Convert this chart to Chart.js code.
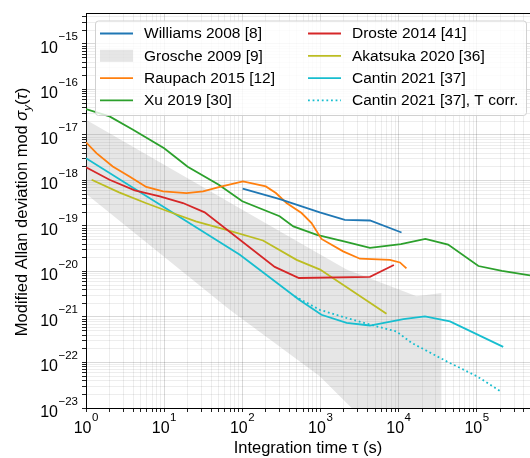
<!DOCTYPE html>
<html><head><meta charset="utf-8">
<script src="https://cdn.jsdelivr.net/npm/chart.js@4.4.1/dist/chart.umd.min.js"></script>
<style>html,body{margin:0;padding:0;background:#fff;overflow:hidden}</style>
</head><body>
<canvas id="c" width="530" height="458"></canvas>
<script>
// ---- data ----
const williamsTau   = [101, 302, 980, 2050, 4300, 10900];
const williamsSigma = [6.6e-19, 3.9e-19, 2.0e-19, 1.37e-19, 1.32e-19, 7.2e-20];

const groscheTau   = [1, 69, 980, 2160, 17000, 35500];
const groscheUpper = [2.17e-17, 3.3e-19, 2.4e-20, 1.1e-20, 2.84e-21, 3.36e-21];
const groscheLower = [5.1e-19, 1.45e-21, 5.0e-23, 1.29e-23, 3.9e-25, 1.1e-25];

const raupachTau   = [1, 1.36, 2.2, 3.6, 5.9, 9.7, 19.3, 31.5, 51.5, 102, 200, 269, 368, 573, 769, 1030, 1950, 3200, 7740, 10400, 12600];
const raupachSigma = [6.9e-18, 4.0e-18, 2.04e-18, 1.23e-18, 7.2e-19, 5.75e-19, 5.3e-19, 5.75e-19, 7.2e-19, 9.55e-19, 7.4e-19, 5.3e-19, 3.2e-19, 1.93e-19, 1.16e-19, 5.2e-20, 2.77e-20, 1.91e-20, 1.8e-20, 1.58e-20, 1.17e-20];

const xuTau   = [1, 2, 4, 10, 20, 50, 100, 300, 450, 900, 2000, 4300, 10700, 22000, 43000, 105000, 210000, 480000];
const xuSigma = [3.7e-17, 2.56e-17, 1.31e-17, 5.1e-18, 2.0e-18, 8.1e-19, 3.5e-19, 1.64e-19, 9.8e-20, 6.4e-20, 4.6e-20, 3.3e-20, 4.0e-20, 5.2e-20, 3.9e-20, 1.32e-20, 1.03e-20, 8.2e-21];

const drosteTau   = [1, 2, 4.2, 8.8, 17.4, 33, 260, 530, 4300, 8700];
const drosteSigma = [1.96e-18, 1.04e-18, 6.05e-19, 4.5e-19, 3.2e-19, 2.0e-19, 1.26e-20, 7.2e-21, 7.6e-21, 1.39e-20];

const akatsukaTau   = [1.18, 2.65, 5.8, 12.8, 25.4, 61, 184, 495, 990, 7000];
const akatsukaSigma = [1.04e-18, 5.5e-19, 3.2e-19, 1.93e-19, 1.26e-19, 8.3e-20, 4.8e-20, 1.8e-20, 1.1e-20, 1.18e-21];

const cantinTau   = [1, 93, 534, 1030, 2160, 4300, 11500, 21700, 45400, 218000];
const cantinSigma = [3.1e-18, 2.34e-20, 2.4e-21, 1.12e-21, 7.4e-22, 6.5e-22, 9.0e-22, 1.03e-21, 8.0e-22, 2.2e-22];

const cantinTcorrTau   = [470, 980, 2160, 4300, 9400, 14700, 41200, 100000, 208000];
const cantinTcorrSigma = [2.84e-21, 1.44e-21, 9.5e-22, 6.8e-22, 4.8e-22, 2.7e-22, 1.06e-22, 5.0e-23, 2.25e-23];

const seriesLabels = ['Williams 2008 [8]', 'Grosche 2009 [9]', 'Raupach 2015 [12]', 'Xu 2019 [30]',
                      'Droste 2014 [41]', 'Akatsuka 2020 [36]', 'Cantin 2021 [37]', 'Cantin 2021 [37], T corr.'];

const xTickExponents = [0, 1, 2, 3, 4, 5];
const yTickExponents = [-23, -22, -21, -20, -19, -18, -17, -16, -15];
const tickBase = '10';
const xTitle = 'Integration time \u03c4 (s)';
const yTitleParts = ['Modified Allan deviation mod ', '\u03c3', 'y', '(', '\u03c4', ')'];

// ---- helpers ----
const pts = (xs, ys) => xs.map((x, i) => ({x, y: ys[i]}));
const isDecade = v => { const l = Math.log10(v); return Math.abs(l - Math.round(l)) < 1e-6; };
const expText = e => String(e).replace('-', '\u2212');
function logTicks(scale) {
  const t = [];
  const lo = Math.floor(Math.log10(scale.min)), hi = Math.ceil(Math.log10(scale.max));
  for (let e = lo; e <= hi; e++) for (let m = 1; m <= 9; m++) {
    const v = Number(m + 'e' + e);
    if (v >= scale.min * (1 - 1e-9) && v <= scale.max * (1 + 1e-9)) t.push({value: v});
  }
  scale.ticks = t;
}
const gridColor = c => (c.tick && isDecade(c.tick.value)) ? 'rgba(0,0,0,0.15)' : 'rgba(0,0,0,0.07)';

const FONT = '"Liberation Sans", Arial, "DejaVu Sans", sans-serif';
const C = {blue:'#1f77b4', orange:'#ff7f0e', green:'#2ca02c', red:'#d62728', olive:'#bcbd22', cyan:'#17becf', band:'rgba(128,128,128,0.2)'};
const LW = 1.8;
const line = (label, data, color, extra) => Object.assign({label, data, borderColor: color, backgroundColor: color,
  borderWidth: LW, showLine: true, pointRadius: 0, pointHoverRadius: 0, tension: 0, fill: false}, extra || {});

const datasets = [
  line(seriesLabels[0], pts(williamsTau, williamsSigma), C.blue),
  line(seriesLabels[2], pts(raupachTau, raupachSigma), C.orange),
  line(seriesLabels[3], pts(xuTau, xuSigma), C.green),
  line(seriesLabels[4], pts(drosteTau, drosteSigma), C.red),
  line(seriesLabels[5], pts(akatsukaTau, akatsukaSigma), C.olive),
  line(seriesLabels[6], pts(cantinTau, cantinSigma), C.cyan),
  line(seriesLabels[7], pts(cantinTcorrTau, cantinTcorrSigma), C.cyan, {borderDash: [1.8, 2.8]}),
  line(seriesLabels[1], pts(groscheTau, groscheUpper), 'rgba(0,0,0,0)', {backgroundColor: C.band}),
  line(seriesLabels[1] + ' (lower)', pts(groscheTau, groscheLower), 'rgba(0,0,0,0)', {backgroundColor: C.band, fill: '-1'})
];

// legend entries: [label index, kind, color, dashed]
const legendEntries = [
  [0, 'line', C.blue, false], [1, 'patch', C.band, false], [2, 'line', C.orange, false], [3, 'line', C.green, false],
  [4, 'line', C.red, false], [5, 'line', C.olive, false], [6, 'line', C.cyan, false], [7, 'line', C.cyan, true]
];

const MAIN = '16px ' + FONT, SUPF = '11.5px ' + FONT;
const decorPlugin = {
  id: 'decor',
  afterDraw(chart) {
    const ctx = chart.ctx, a = chart.chartArea;
    const xs = chart.scales.x, ys = chart.scales.y;
    ctx.save();
    // top spine
    ctx.strokeStyle = '#000'; ctx.lineWidth = 1;
    ctx.beginPath(); ctx.moveTo(a.left, Math.round(a.top) + 0.5); ctx.lineTo(a.right, Math.round(a.top) + 0.5); ctx.stroke();
    // tick labels 10^n (positions from the scales)
    ctx.fillStyle = '#000'; ctx.textBaseline = 'alphabetic'; ctx.textAlign = 'left';
    xTickExponents.forEach(e => {
      const px = xs.getPixelForValue(Math.pow(10, e));
      ctx.font = MAIN; const w1 = ctx.measureText(tickBase).width;
      ctx.font = SUPF; const w2 = ctx.measureText(expText(e)).width;
      const x0 = px - (w1 + w2 + 0.5) / 2;
      ctx.font = MAIN; ctx.fillText(tickBase, x0, a.bottom + 25);
      ctx.font = SUPF; ctx.fillText(expText(e), x0 + w1 + 0.5, a.bottom + 13);
    });
    yTickExponents.forEach(e => {
      const py = ys.getPixelForValue(Number('1e' + e));
      ctx.font = SUPF; const w2 = ctx.measureText(expText(e)).width;
      ctx.font = MAIN; const w1 = ctx.measureText(tickBase).width;
      const xr = a.left - 8;
      ctx.font = SUPF; ctx.fillText(expText(e), xr - w2, py - 3.5);
      ctx.font = MAIN; ctx.fillText(tickBase, xr - w2 - 0.5 - w1, py + 9);
    });
    // legend
    const bx = a.left + 9, by = a.top + 7.5, bw = 431, bh = 94.5;
    ctx.beginPath(); ctx.roundRect(bx + 0.5, by + 0.5, bw, bh, 3);
    ctx.fillStyle = 'rgba(255,255,255,0.8)'; ctx.fill();
    ctx.strokeStyle = 'rgba(204,204,204,0.9)'; ctx.lineWidth = 1; ctx.stroke();
    ctx.font = '15.5px ' + FONT; ctx.textBaseline = 'middle'; ctx.textAlign = 'left';
    legendEntries.forEach((en, i) => {
      const col = Math.floor(i / 4), row = i % 4;
      const hx = bx + 5 + col * 208, ty = by + 13 + row * 22.3;
      if (en[1] === 'patch') {
        ctx.fillStyle = en[2]; ctx.fillRect(hx, ty - 6, 33, 12);
      } else {
        ctx.strokeStyle = en[2]; ctx.lineWidth = LW; ctx.setLineDash(en[3] ? [1.8, 2.8] : []);
        ctx.beginPath(); ctx.moveTo(hx, ty); ctx.lineTo(hx + 33, ty); ctx.stroke(); ctx.setLineDash([]);
      }
      ctx.fillStyle = '#000'; ctx.fillText(seriesLabels[en[0]], hx + 44, ty + 0.5);
    });
    // y title with math formatting
    ctx.translate(27, (a.top + a.bottom) / 2 + 1.5); ctx.rotate(-Math.PI / 2);
    const fN = '16.5px ' + FONT, fI = 'italic 16.5px ' + FONT, fS = 'italic 11.5px ' + FONT;
    const parts = [[yTitleParts[0], fN, 0], [yTitleParts[1], fI, 0], [yTitleParts[2], fS, 3.5], [yTitleParts[3], fN, 0], [yTitleParts[4], fI, 0], [yTitleParts[5], fN, 0]];
    let total = 0; parts.forEach(p => { ctx.font = p[1]; total += ctx.measureText(p[0]).width; });
    let x = -total / 2; ctx.textBaseline = 'alphabetic'; ctx.fillStyle = '#000';
    parts.forEach(p => { ctx.font = p[1]; ctx.fillText(p[0], x, p[2]); x += ctx.measureText(p[0]).width; });
    ctx.restore();
  }
};

new Chart(document.getElementById('c'), {
  type: 'scatter',
  data: {datasets},
  options: {
    responsive: false, animation: false, devicePixelRatio: 1,
    layout: {padding: {top: 13, left: 0, right: 0, bottom: 0}},
    plugins: {legend: {display: false}, tooltip: {enabled: false}},
    scales: {
      x: {
        type: 'logarithmic', min: 1, max: 4.8e5,
        afterBuildTicks: logTicks,
        afterFit: s => { s.height = 50; },
        ticks: {display: false, autoSkip: false, maxRotation: 0, minRotation: 0},
        grid: {color: gridColor, lineWidth: 1, tickLength: 4, tickColor: '#222', drawTicks: true},
        border: {display: true, color: '#000', width: 1},
        title: {display: true, text: xTitle, color: '#000', font: {family: FONT, size: 16.5}, padding: {top: 0, bottom: 0}}
      },
      y: {
        type: 'logarithmic', min: 1e-23, max: 4.8e-15,
        afterBuildTicks: logTicks,
        afterFit: s => { s.width = 86; },
        ticks: {display: false, autoSkip: false},
        grid: {color: gridColor, lineWidth: 1, tickLength: 4, tickColor: '#222', drawTicks: true},
        border: {display: true, color: '#000', width: 1}
      }
    }
  },
  plugins: [decorPlugin]
});
</script>
</body></html>
